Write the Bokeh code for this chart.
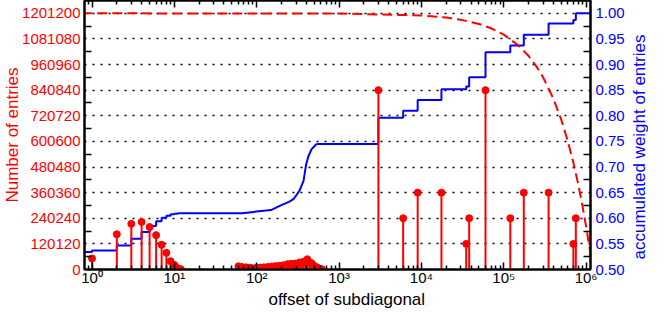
import math
from bokeh.plotting import figure
from bokeh.layouts import row
from bokeh.models import (Range1d, LinearAxis, LogAxis, FixedTicker, LogScale, Title,
                          NumeralTickFormatter, CustomJSTickFormatter)
from bokeh.embed import file_html
from bokeh.resources import INLINE

# ---- data ----
offsets_small = [1, 2, 3, 4, 5, 6, 7, 8, 9, 10, 11, 12]
entries_small = [52000, 165000, 214000, 223000, 199000, 161000, 116000, 78000, 39000, 21000, 6000, 1000]

offsets_band = [60, 63, 66, 70, 74, 78, 82, 87, 92, 97, 103, 109, 115, 122, 129, 136, 144, 152,
                161, 170, 180, 190, 201, 212, 224, 237, 250, 264, 279, 295, 312, 330, 349, 369,
                390, 412, 436, 461, 487, 515, 545, 580, 620]
entries_band = [15000, 9000, 12000, 5000, 10000, 3000, 8000, 6000, 2000, 7000, 4000, 9000, 3000,
                10000, 6000, 12000, 5000, 14000, 8000, 16000, 10000, 17000, 12000, 20000, 14000,
                25000, 18000, 27000, 20000, 28000, 22000, 33000, 26000, 36000, 30000, 48000,
                34000, 30000, 20000, 14000, 8000, 4000, 1000]

offsets_big = [3000, 6000, 9000, 17500, 35000, 38000, 60000, 120000, 175000, 350000, 700000, 750000]
entries_big = [840840, 240240, 360360, 360360, 120120, 240240, 840840, 240240, 360360, 360360,
               120120, 240240]

diag_offsets = [0.5, 1000, 10000, 20000, 30000, 50000, 70000, 100000, 150000, 200000, 250000,
                300000, 400000, 500000, 600000, 700000, 800000, 900000, 1000000, 1050000,
                1100000, 1150000, 1200000]
diag_entries = [1201200, 1200200, 1191200, 1181200, 1171200, 1151200, 1131200, 1101200, 1051200,
                1001200, 951200, 901200, 801200, 701200, 601200, 501200, 401200, 301200, 201200,
                151200, 101200, 51200, 1200]

weight_step1_x = [0.5, 1, 2, 3, 4, 5, 6, 7, 8, 9, 10, 11, 12]
weight_step1_y = [0.534, 0.537, 0.547, 0.560, 0.573, 0.585, 0.594, 0.601, 0.605, 0.608, 0.609,
                  0.610, 0.610]
weight_mid_x = [12, 66, 149, 196, 246, 282, 331, 370, 398, 424, 464, 532]
weight_mid_y = [0.610, 0.610, 0.616, 0.625, 0.632, 0.638, 0.654, 0.673, 0.705, 0.721, 0.735, 0.745]
weight_step2_x = [532, 3000, 6000, 9000, 17500, 35000, 38000, 60000, 120000, 175000, 350000,
                  700000, 750000, 2000000]
weight_step2_y = [0.745, 0.796, 0.810, 0.831, 0.852, 0.857, 0.875, 0.924, 0.937, 0.958, 0.980,
                  0.987, 1.000, 1.000]

left_ticks = [0, 120120, 240240, 360360, 480480, 600600, 720720, 840840, 960960, 1081080, 1201200]
right_ticks = [0.50, 0.55, 0.60, 0.65, 0.70, 0.75, 0.80, 0.85, 0.90, 0.95, 1.00]
x_decades = [1, 10, 100, 1000, 10000, 100000, 1000000]

X_LABEL = "offset of subdiagonal"
Y_LABEL = "Number of entries"
Y2_LABEL = "accumulated weight of entries"

RED = "#ff0000"
BLUE = "#0000ff"
FONT = "Liberation Sans"

W_MAIN, W_SIDE, H = 627, 21, 308


def step_after(xs, ys):
    px, py = [], []
    for i in range(len(xs)):
        if i > 0:
            px.append(xs[i]); py.append(ys[i - 1])
        px.append(xs[i]); py.append(ys[i])
    return px, py


p = figure(width=W_MAIN, height=H, x_axis_type=None, y_axis_location=None,
           x_range=Range1d(0.81, 1.13e6), y_range=Range1d(0, 1261260),
           output_backend="svg", toolbar_location=None,
           min_border_left=77, min_border_right=34, min_border_top=0, min_border_bottom=39)
p.extra_y_ranges = {"w": Range1d(0.5, 1.025)}
p.x_scale = LogScale()
p.outline_line_color = "black"
p.outline_line_width = 2
p.background_fill_color = "white"
p.border_fill_color = "white"

minor_x = [m * d for d in [0.1] + x_decades for m in range(2, 10)]
left_minor = [t + 60060 for t in left_ticks]
right_minor = [t + 0.025 for t in right_ticks]

sup = "\u2070\u00b9\u00b2\u00b3\u2074\u2075\u2076\u2077\u2078\u2079"
xfmt = CustomJSTickFormatter(code="""
const s = "%s";
const e = Math.round(Math.log10(tick));
return "10" + s[e];
""" % sup)
blankfmt = CustomJSTickFormatter(code="return '';")

bottom = LogAxis(ticker=FixedTicker(ticks=x_decades, minor_ticks=minor_x), formatter=xfmt)
top = LogAxis(ticker=FixedTicker(ticks=x_decades, minor_ticks=minor_x), formatter=blankfmt,
              major_label_standoff=0)
left = LinearAxis(ticker=FixedTicker(ticks=left_ticks, minor_ticks=left_minor),
                  formatter=NumeralTickFormatter(format="0"), axis_label=Y_LABEL)
right = LinearAxis(y_range_name="w", ticker=FixedTicker(ticks=right_ticks, minor_ticks=right_minor),
                   formatter=NumeralTickFormatter(format="0.00"))

for ax in (bottom, top, left, right):
    ax.axis_line_color = "black"
    ax.axis_line_width = 2
    ax.major_tick_line_color = "black"
    ax.minor_tick_line_color = "black"
    ax.major_tick_line_width = 1.5
    ax.minor_tick_line_width = 1.5
    ax.major_tick_out = 0
    ax.minor_tick_out = 0
    ax.major_label_text_font = FONT
    ax.axis_label_text_font = FONT
    ax.axis_label_text_font_style = "normal"
    ax.axis_label_text_font_size = "17px"

for ax in (bottom, top):
    ax.major_tick_in = 7
    ax.minor_tick_in = 4
bottom.major_label_text_font_size = "15px"
bottom.major_label_text_color = "black"
bottom.major_label_standoff = -1

for ax, col in ((left, RED), (right, BLUE)):
    ax.major_tick_in = 0
    ax.minor_tick_in = 7
    ax.major_label_text_font_size = "15px"
    ax.major_label_text_color = col
    ax.axis_label_text_color = col
left.major_label_standoff = 4
left.axis_label_standoff = -3
right.major_label_standoff = 5

p.add_layout(bottom, "below")
p.add_layout(top, "above")
p.add_layout(left, "left")
p.add_layout(right, "right")
p.add_layout(Title(text=X_LABEL, align="left", offset=184, standoff=-2,
                   text_font=FONT, text_font_size="17px", text_font_style="normal",
                   text_color="black"), "below")

p.ygrid.ticker = FixedTicker(ticks=left_ticks[1:])
p.ygrid.grid_line_color = "black"
p.ygrid.grid_line_dash = "2 6"
p.ygrid.grid_line_width = 1.5
p.xgrid.grid_line_color = None

sx, sy = step_after(weight_step1_x, weight_step1_y)
p.line(sx, sy, y_range_name="w", line_color=BLUE, line_width=2)
p.line(weight_mid_x, weight_mid_y, y_range_name="w", line_color=BLUE, line_width=2)
sx, sy = step_after(weight_step2_x, weight_step2_y)
p.line(sx, sy, y_range_name="w", line_color=BLUE, line_width=2)

p.line(diag_offsets, diag_entries, line_color=RED, line_width=2, line_dash="10 5")

all_x = offsets_small + offsets_band + offsets_big
all_y = entries_small + entries_band + entries_big
p.segment(x0=all_x, y0=[0] * len(all_x), x1=all_x, y1=all_y, line_color=RED, line_width=2)
p.scatter(all_x, all_y, size=7, color=RED)

# narrow side panel carrying the right-hand axis title (reads bottom to top)
q = figure(width=W_SIDE, height=H, x_range=Range1d(0, 1), y_range=Range1d(0, 1),
           x_axis_location=None, y_axis_location=None, output_backend="svg",
           toolbar_location=None, min_border_left=0, min_border_right=0,
           min_border_top=0, min_border_bottom=39)
q.outline_line_color = None
q.grid.visible = False
q.background_fill_color = "white"
q.border_fill_color = "white"
q.add_layout(Title(text=Y2_LABEL, align="left", offset=10, standoff=0, text_font=FONT,
                   text_font_size="17px", text_font_style="normal", text_color=BLUE), "left")

layout = row(p, q)
open("out.html", "w").write(file_html(layout, INLINE))
